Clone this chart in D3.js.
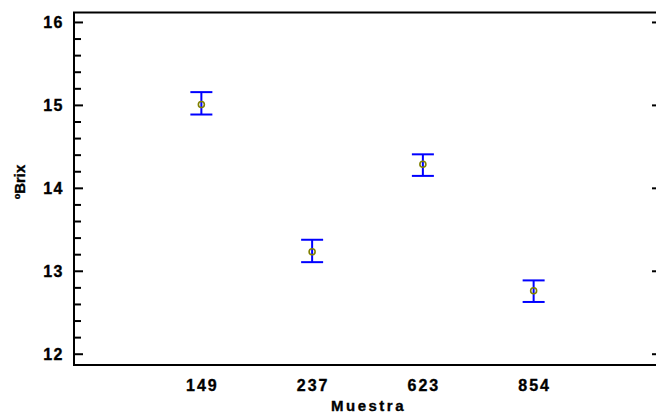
<!DOCTYPE html>
<html>
<head>
<meta charset="utf-8">
<script src="https://cdn.jsdelivr.net/npm/d3@7"></script>
<style>
  html, body { margin: 0; padding: 0; background: #fff; }
  svg { display: block; }
  text { font-family: "Liberation Sans", Arial, sans-serif; font-weight: bold; fill: #000; stroke: #000; stroke-width: 0.35px; }
</style>
</head>
<body>
<script>
// Sample codes and mean ºBrix with interval limits
const samples = ["149", "237", "623", "854"];
const means   = [15.01, 13.235, 14.29, 12.765];
const lower   = [14.89, 13.11, 14.15, 12.63];
const upper   = [15.16, 13.38, 14.41, 12.89];
const yTicks  = [12, 13, 14, 15, 16];

const W = 656, H = 414;
const m = { left: 74, right: 661, top: 12.5, bottom: 365 };

const svg = d3.select("body").append("svg")
  .attr("width", W).attr("height", H);

const x = d3.scalePoint().domain(samples).range([m.left, m.right]).padding(1.15);
const y = d3.scaleLinear().domain([11.87, 16.12]).range([m.bottom, m.top]);

// Minor ticks every 0.2 between majors
const minor = d3.range(12, 16.01, 0.2).map(v => +v.toFixed(1)).filter(v => !yTicks.includes(v));

// Frame (right side extends beyond the visible window)
svg.append("path")
  .attr("d", `M${m.right},${m.top}H${m.left}V${m.bottom}H${m.right}`)
  .attr("fill", "none").attr("stroke", "#000").attr("stroke-width", 2);

// Left axis ticks, pointing inward
const left = svg.append("g");
left.selectAll("line.major").data(yTicks).join("line")
  .attr("x1", m.left).attr("x2", m.left + 9)
  .attr("y1", d => y(d)).attr("y2", d => y(d))
  .attr("stroke", "#000").attr("stroke-width", 2);
left.selectAll("line.minor").data(minor).join("line")
  .attr("x1", m.left).attr("x2", m.left + 7)
  .attr("y1", d => y(d)).attr("y2", d => y(d))
  .attr("stroke", "#000").attr("stroke-width", 2);
left.selectAll("text").data(yTicks).join("text")
  .attr("x", m.left - 10).attr("y", d => y(d))
  .attr("dy", "0.36em").attr("text-anchor", "end")
  .style("font-size", "16px").style("letter-spacing", "1.5px")
  .text(d => d);

// Right axis major ticks, pointing inward
svg.append("g").selectAll("line").data(yTicks).join("line")
  .attr("x1", m.right).attr("x2", m.right - 9)
  .attr("y1", d => y(d)).attr("y2", d => y(d))
  .attr("stroke", "#000").attr("stroke-width", 2);

// Category labels
svg.append("g").selectAll("text").data(samples).join("text")
  .attr("x", d => x(d) + 1).attr("y", 391)
  .attr("text-anchor", "middle")
  .style("font-size", "16px").style("letter-spacing", "2px")
  .text(d => d);

// Axis titles
svg.append("text")
  .attr("x", (m.left + m.right) / 2 + 1).attr("y", 411)
  .attr("text-anchor", "middle")
  .style("font-size", "15px").style("letter-spacing", "2.5px")
  .text("Muestra");
svg.append("text")
  .attr("transform", `translate(25,182) rotate(-90)`)
  .attr("text-anchor", "middle")
  .style("font-size", "15px")
  .text("ºBrix");

// Interval bars
const rows = samples.map((s, i) => ({ s, mean: means[i], lo: lower[i], hi: upper[i] }));
const bars = svg.append("g").attr("stroke", "#0000ff").attr("stroke-width", 2);
bars.selectAll("line.v").data(rows).join("line")
  .attr("x1", d => x(d.s)).attr("x2", d => x(d.s))
  .attr("y1", d => y(d.hi)).attr("y2", d => y(d.lo));
bars.selectAll("line.hi").data(rows).join("line")
  .attr("x1", d => x(d.s) - 11).attr("x2", d => x(d.s) + 11)
  .attr("y1", d => y(d.hi)).attr("y2", d => y(d.hi));
bars.selectAll("line.lo").data(rows).join("line")
  .attr("x1", d => x(d.s) - 11).attr("x2", d => x(d.s) + 11)
  .attr("y1", d => y(d.lo)).attr("y2", d => y(d.lo));

// Mean markers
svg.append("g").selectAll("circle").data(rows).join("circle")
  .attr("cx", d => x(d.s)).attr("cy", d => y(d.mean)).attr("r", 3)
  .attr("fill", "none").attr("stroke", "#808000").attr("stroke-width", 1.6);
</script>
</body>
</html>
